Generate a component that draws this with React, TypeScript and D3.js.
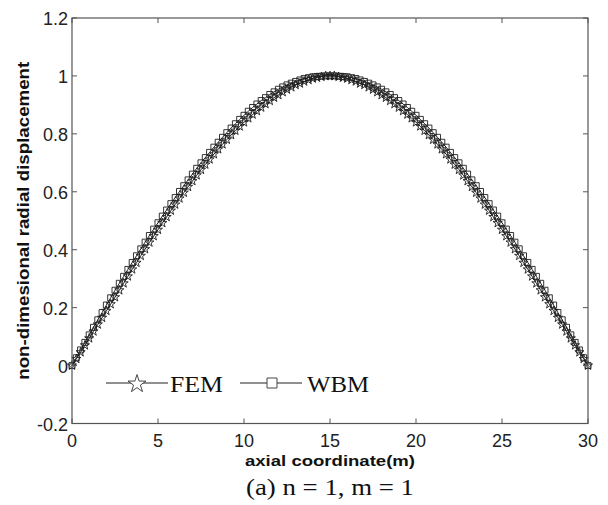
import React from "react";
import * as d3 from "d3";

// x positions of the sampled nodes (axial coordinate, m), 0..30 every 0.25 m
const axialCoord: number[] = d3.range(0, 30.0001, 0.25);

// FEM series (stars)
const femValues: number[] = [
  0.000, 0.023, 0.046, 0.070, 0.094, 0.118, 0.142, 0.165, 0.189, 0.212,
  0.236, 0.260, 0.284, 0.308, 0.332, 0.355, 0.379, 0.402, 0.425, 0.447,
  0.469, 0.492, 0.513, 0.535, 0.556, 0.577, 0.597, 0.617, 0.637, 0.657,
  0.676, 0.694, 0.712, 0.730, 0.747, 0.764, 0.780, 0.796, 0.811, 0.826,
  0.840, 0.854, 0.867, 0.879, 0.891, 0.903, 0.914, 0.925, 0.934, 0.944,
  0.953, 0.961, 0.969, 0.974, 0.981, 0.986, 0.991, 0.994, 0.997, 1.000,
  1.000,
  1.000, 0.997, 0.994, 0.991, 0.986, 0.981, 0.974, 0.969, 0.961, 0.953,
  0.944, 0.934, 0.925, 0.914, 0.903, 0.891, 0.879, 0.867, 0.854, 0.840,
  0.826, 0.811, 0.796, 0.780, 0.764, 0.747, 0.730, 0.712, 0.694, 0.676,
  0.657, 0.637, 0.617, 0.597, 0.577, 0.556, 0.535, 0.513, 0.492, 0.469,
  0.447, 0.425, 0.402, 0.379, 0.355, 0.332, 0.308, 0.284, 0.260, 0.236,
  0.212, 0.189, 0.165, 0.142, 0.118, 0.094, 0.070, 0.046, 0.023, 0.000,
];

// WBM series (squares)
const wbmValues: number[] = [
  0.000, 0.027, 0.054, 0.080, 0.106, 0.132, 0.158, 0.183, 0.209, 0.234,
  0.260, 0.284, 0.308, 0.332, 0.356, 0.379, 0.403, 0.426, 0.449, 0.471,
  0.493, 0.516, 0.537, 0.559, 0.580, 0.601, 0.621, 0.641, 0.661, 0.681,
  0.700, 0.718, 0.736, 0.754, 0.771, 0.788, 0.804, 0.820, 0.835, 0.850,
  0.864, 0.878, 0.891, 0.903, 0.915, 0.925, 0.936, 0.945, 0.954, 0.962,
  0.969, 0.975, 0.981, 0.986, 0.991, 0.994, 0.997, 0.998, 0.999, 1.000,
  1.000,
  1.000, 0.999, 0.998, 0.997, 0.994, 0.991, 0.986, 0.981, 0.975, 0.969,
  0.962, 0.954, 0.945, 0.936, 0.925, 0.915, 0.903, 0.891, 0.878, 0.864,
  0.850, 0.835, 0.820, 0.804, 0.788, 0.771, 0.754, 0.736, 0.718, 0.700,
  0.681, 0.661, 0.641, 0.621, 0.601, 0.580, 0.559, 0.537, 0.516, 0.493,
  0.471, 0.449, 0.426, 0.403, 0.379, 0.356, 0.332, 0.308, 0.284, 0.260,
  0.234, 0.209, 0.183, 0.158, 0.132, 0.106, 0.080, 0.054, 0.027, 0.000,
];

const xTicks: number[] = [0, 5, 10, 15, 20, 25, 30];
const yTicks: number[] = [-0.2, 0, 0.2, 0.4, 0.6, 0.8, 1, 1.2];
const yTickLabels: string[] = ["-0.2", "0", "0.2", "0.4", "0.6", "0.8", "1", "1.2"];

const W = 608;
const H = 505;
const left = 72;
const right = 588;
const top = 18;
const bottom = 423.5;

export default function App() {
  const x = d3.scaleLinear().domain([0, 30]).range([left, right]);
  const y = d3.scaleLinear().domain([-0.2, 1.2]).range([bottom, top]);

  const femPts = axialCoord.map((a, i) => [a, femValues[i]] as [number, number]);
  const wbmPts = axialCoord.map((a, i) => [a, wbmValues[i]] as [number, number]);
  const line = d3
    .line<[number, number]>()
    .x((d) => x(d[0]))
    .y((d) => y(d[1]));

  const star = d3.symbol().type(d3.symbolStar).size(26)()!;
  const square = d3.symbol().type(d3.symbolSquare).size(36)()!;
  const starBig = d3.symbol().type(d3.symbolStar).size(100)()!;
  const squareBig = d3.symbol().type(d3.symbolSquare).size(100)()!;

  const axisColor = "#555";
  const tickLen = 5;
  const sans = "'Liberation Sans', Arial, sans-serif";
  const serif = "'Liberation Serif', 'Times New Roman', serif";
  const markColor = "#1e1e1e";

  return (
    <svg
      width={W}
      height={H}
      style={{ position: "absolute", left: 0, top: 0, background: "#fff" }}
    >
      <rect x={0} y={0} width={W} height={H} fill="#fff" />
      {/* series */}
      <path d={line(femPts)!} fill="none" stroke={markColor} strokeWidth={1} />
      {femPts.map((d, i) => (
        <path
          key={"f" + i}
          d={star}
          transform={`translate(${x(d[0])},${y(d[1])})`}
          fill="none"
          stroke={markColor}
          strokeWidth={0.9}
        />
      ))}
      <path d={line(wbmPts)!} fill="none" stroke={markColor} strokeWidth={1} />
      {wbmPts.map((d, i) => (
        <path
          key={"w" + i}
          d={square}
          transform={`translate(${x(d[0])},${y(d[1])})`}
          fill="none"
          stroke={markColor}
          strokeWidth={0.9}
        />
      ))}

      {/* frame */}
      <rect
        x={left}
        y={top}
        width={right - left}
        height={bottom - top}
        fill="none"
        stroke={axisColor}
        strokeWidth={1.2}
      />
      {/* x ticks */}
      {xTicks.map((t) => (
        <g key={"xt" + t}>
          <line x1={x(t)} x2={x(t)} y1={bottom} y2={bottom - tickLen} stroke={axisColor} />
          <line x1={x(t)} x2={x(t)} y1={top} y2={top + tickLen} stroke={axisColor} />
          <text
            x={x(t)}
            y={bottom + 17}
            textAnchor="middle"
            dominantBaseline="central"
            fontFamily={sans}
            fontSize={18}
            fill="#222"
          >
            {t}
          </text>
        </g>
      ))}
      {/* y ticks */}
      {yTicks.map((t, i) => (
        <g key={"yt" + i}>
          <line x1={left} x2={left + tickLen} y1={y(t)} y2={y(t)} stroke={axisColor} />
          <line x1={right} x2={right - tickLen} y1={y(t)} y2={y(t)} stroke={axisColor} />
          <text
            x={68}
            y={y(t) + 1}
            textAnchor="end"
            dominantBaseline="central"
            fontFamily={sans}
            fontSize={18}
            fill="#222"
          >
            {yTickLabels[i]}
          </text>
        </g>
      ))}

      {/* axis labels */}
      <text
        x={(left + right) / 2}
        y={466}
        textAnchor="middle"
        fontFamily={sans}
        fontWeight="bold"
        fontSize={15.5}
        textLength={170}
        lengthAdjust="spacingAndGlyphs"
        fill="#111"
      >
        axial coordinate(m)
      </text>
      <text
        transform={`translate(29,${(top + bottom) / 2}) rotate(-90)`}
        textAnchor="middle"
        fontFamily={sans}
        fontWeight="bold"
        fontSize={16}
        textLength={318}
        lengthAdjust="spacingAndGlyphs"
        fill="#111"
      >
        non-dimesional radial displacement
      </text>

      {/* legend */}
      <line x1={106} x2={168} y1={383} y2={383} stroke="#222" strokeWidth={1} />
      <path d={starBig} transform="translate(137,384)" fill="#fff" stroke="#333" strokeWidth={0.9} />
      <text x={170} y={391.5} fontFamily={serif} fontSize={24} textLength={53} lengthAdjust="spacingAndGlyphs" fill="#111">
        FEM
      </text>
      <line x1={240} x2={302} y1={383} y2={383} stroke="#222" strokeWidth={1} />
      <path d={squareBig} transform="translate(272,383)" fill="#fff" stroke="#333" strokeWidth={0.9} />
      <text x={307} y={391.5} fontFamily={serif} fontSize={24} textLength={62} lengthAdjust="spacingAndGlyphs" fill="#111">
        WBM
      </text>

      {/* caption */}
      <text
        x={330}
        y={495}
        textAnchor="middle"
        fontFamily={serif}
        fontSize={23}
        textLength={168}
        lengthAdjust="spacingAndGlyphs"
        fill="#111"
      >
        (a) n = 1, m = 1
      </text>
    </svg>
  );
}
